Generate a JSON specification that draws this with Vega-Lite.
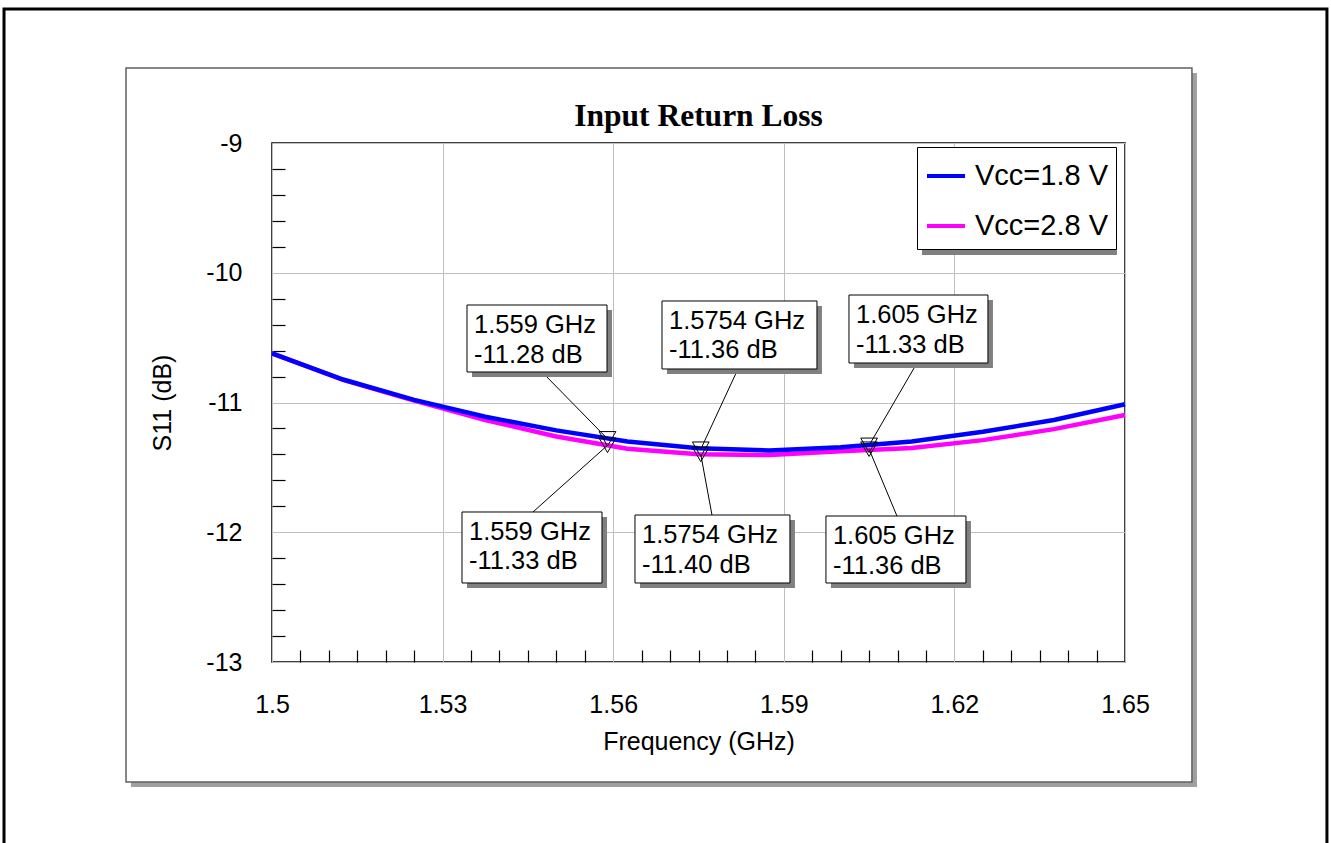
{
  "$schema": "https://vega.github.io/schema/vega-lite/v6.json",
  "width": 853,
  "height": 519,
  "autosize": {"type": "none"},
  "padding": {"left": 272, "top": 143, "right": 206, "bottom": 181},
  "background": "white",
  "config": {"view": {"stroke": "black", "strokeWidth": 1.5}, "font": "Liberation Sans"},
  "title": {"text": "Input Return Loss", "font": "Liberation Serif", "fontSize": 31.5, "fontWeight": "bold", "color": "black", "anchor": "middle", "baseline": "alphabetic", "offset": -150.5},
  "datasets": {
    "curves": [
      {"freq": 1.5, "s11": -10.622, "series": "Vcc=1.8 V"},
      {"freq": 1.5125, "s11": -10.823, "series": "Vcc=1.8 V"},
      {"freq": 1.525, "s11": -10.98, "series": "Vcc=1.8 V"},
      {"freq": 1.5375, "s11": -11.11, "series": "Vcc=1.8 V"},
      {"freq": 1.55, "s11": -11.215, "series": "Vcc=1.8 V"},
      {"freq": 1.5625, "s11": -11.3, "series": "Vcc=1.8 V"},
      {"freq": 1.575, "s11": -11.352, "series": "Vcc=1.8 V"},
      {"freq": 1.5875, "s11": -11.37, "series": "Vcc=1.8 V"},
      {"freq": 1.6, "s11": -11.345, "series": "Vcc=1.8 V"},
      {"freq": 1.6125, "s11": -11.3, "series": "Vcc=1.8 V"},
      {"freq": 1.625, "s11": -11.225, "series": "Vcc=1.8 V"},
      {"freq": 1.6375, "s11": -11.135, "series": "Vcc=1.8 V"},
      {"freq": 1.65, "s11": -11.014, "series": "Vcc=1.8 V"},
      {"freq": 1.5, "s11": -10.622, "series": "Vcc=2.8 V"},
      {"freq": 1.5125, "s11": -10.825, "series": "Vcc=2.8 V"},
      {"freq": 1.525, "s11": -10.986, "series": "Vcc=2.8 V"},
      {"freq": 1.5375, "s11": -11.135, "series": "Vcc=2.8 V"},
      {"freq": 1.55, "s11": -11.262, "series": "Vcc=2.8 V"},
      {"freq": 1.5625, "s11": -11.356, "series": "Vcc=2.8 V"},
      {"freq": 1.575, "s11": -11.398, "series": "Vcc=2.8 V"},
      {"freq": 1.5875, "s11": -11.405, "series": "Vcc=2.8 V"},
      {"freq": 1.6, "s11": -11.375, "series": "Vcc=2.8 V"},
      {"freq": 1.6125, "s11": -11.35, "series": "Vcc=2.8 V"},
      {"freq": 1.625, "s11": -11.29, "series": "Vcc=2.8 V"},
      {"freq": 1.6375, "s11": -11.205, "series": "Vcc=2.8 V"},
      {"freq": 1.65, "s11": -11.096, "series": "Vcc=2.8 V"}
    ],
    "markers": [
      {"freq": 1.559, "s11": -11.28, "series": "Vcc=1.8 V", "label": "1.559 GHz\n-11.28 dB", "boxF0": 1.53429, "boxF1": 1.55891, "boxDB0": -10.2486, "boxDB1": -10.7649, "leadF": 1.54748, "leadDB": -10.7649},
      {"freq": 1.559, "s11": -11.33, "series": "Vcc=2.8 V", "label": "1.559 GHz\n-11.33 dB", "boxF0": 1.53341, "boxF1": 1.55803, "boxDB0": -11.8439, "boxDB1": -12.3911, "leadF": 1.54589, "leadDB": -11.8439},
      {"freq": 1.5754, "s11": -11.36, "series": "Vcc=1.8 V", "label": "1.5754 GHz\n-11.36 dB", "boxF0": 1.56858, "boxF1": 1.59583, "boxDB0": -10.2177, "boxDB1": -10.7418, "leadF": 1.58194, "leadDB": -10.7418},
      {"freq": 1.5754, "s11": -11.40, "series": "Vcc=2.8 V", "label": "1.5754 GHz\n-11.40 dB", "boxF0": 1.56383, "boxF1": 1.59108, "boxDB0": -11.8671, "boxDB1": -12.3911, "leadF": 1.57737, "leadDB": -11.8671},
      {"freq": 1.605, "s11": -11.33, "series": "Vcc=1.8 V", "label": "1.605 GHz\n-11.33 dB", "boxF0": 1.60146, "boxF1": 1.6259, "boxDB0": -10.1715, "boxDB1": -10.6956, "leadF": 1.61342, "leadDB": -10.6956},
      {"freq": 1.605, "s11": -11.36, "series": "Vcc=2.8 V", "label": "1.605 GHz\n-11.36 dB", "boxF0": 1.59741, "boxF1": 1.62203, "boxDB0": -11.8748, "boxDB1": -12.3911, "leadF": 1.6099, "leadDB": -11.8748}
    ],
    "frames": [
      {"part": "outer", "f0": 1.452875, "f1": 1.685511, "db0": -7.96724, "db1": -14.6},
      {"part": "panel", "f0": 1.474327, "f1": 1.661773, "db0": -8.42197, "db1": -13.92486},
      {"part": "shadow", "f0": 1.661773, "f1": 1.662652, "db0": -8.4605, "db1": -13.96339},
      {"part": "shadow", "f0": 1.475207, "f1": 1.662652, "db0": -13.92486, "db1": -13.96339},
      {"part": "legend", "f0": 1.613417, "f1": 1.647705, "db0": -9.03083, "db1": -9.82466}
    ]
  },
  "layer": [
    {
      "data": {"name": "frames"},
      "transform": [{"filter": "datum.part == 'outer'"}],
      "mark": {"type": "rect", "fill": null, "fillOpacity": 0, "stroke": "black", "strokeWidth": 3, "clip": false},
      "encoding": {
        "x": {"field": "f0", "type": "quantitative", "scale": {"domain": [1.5, 1.65], "nice": false, "zero": false}},
        "x2": {"field": "f1"},
        "y": {"field": "db0", "type": "quantitative", "scale": {"domain": [-13, -9], "nice": false, "zero": false}},
        "y2": {"field": "db1"}
      }
    },
    {
      "data": {"name": "frames"},
      "transform": [{"filter": "datum.part == 'shadow'"}],
      "mark": {"type": "rect", "fill": "#a0a0a0", "strokeWidth": 0, "clip": false},
      "encoding": {
        "x": {"field": "f0", "type": "quantitative", "scale": {"domain": [1.5, 1.65], "nice": false, "zero": false}},
        "x2": {"field": "f1"},
        "y": {"field": "db0", "type": "quantitative", "scale": {"domain": [-13, -9], "nice": false, "zero": false}},
        "y2": {"field": "db1"}
      }
    },
    {
      "data": {"name": "frames"},
      "transform": [{"filter": "datum.part == 'panel'"}],
      "mark": {"type": "rect", "fill": null, "fillOpacity": 0, "stroke": "#606060", "strokeWidth": 1.5, "clip": false},
      "encoding": {
        "x": {"field": "f0", "type": "quantitative", "scale": {"domain": [1.5, 1.65], "nice": false, "zero": false}},
        "x2": {"field": "f1"},
        "y": {"field": "db0", "type": "quantitative", "scale": {"domain": [-13, -9], "nice": false, "zero": false}},
        "y2": {"field": "db1"}
      }
    },
    {
      "data": {"name": "frames"},
      "transform": [{"filter": "datum.part == 'legend'"}],
      "mark": {"type": "rect", "fill": "#808080", "strokeWidth": 0, "clip": false, "xOffset": 5, "x2Offset": 5, "yOffset": 5, "y2Offset": 5},
      "encoding": {
        "x": {"field": "f0", "type": "quantitative", "scale": {"domain": [1.5, 1.65], "nice": false, "zero": false}},
        "x2": {"field": "f1"},
        "y": {"field": "db0", "type": "quantitative", "scale": {"domain": [-13, -9], "nice": false, "zero": false}},
        "y2": {"field": "db1"}
      }
    },
    {
      "data": {"name": "curves"},
      "transform": [{"filter": "datum.series == 'Vcc=2.8 V'"}],
      "mark": {"type": "line", "strokeWidth": 4.5},
      "encoding": {
        "x": {"field": "freq", "type": "quantitative", "scale": {"domain": [1.5, 1.65], "nice": false, "zero": false},
          "axis": {
            "title": "Frequency (GHz)",
            "values": [1.5,1.505,1.51,1.515,1.52,1.525,1.53,1.535,1.54,1.545,1.55,1.555,1.56,1.565,1.57,1.575,1.58,1.585,1.59,1.595,1.6,1.605,1.61,1.615,1.62,1.625,1.63,1.635,1.64,1.645,1.65],
            "tickCount": 200,
            "labelExpr": "round(datum.value*1000)%30==0 ? toString(datum.value) : ''",
            "labelFont": "Liberation Sans", "labelFontSize": 25, "labelColor": "black", "labelPadding": 42, "labelFlush": false, "labelOverlap": false,
            "ticks": true, "tickSize": -12, "tickColor": "black", "tickWidth": 1.2,
            "tickOpacity": {"condition": {"test": "round(datum.value*1000)%30==0", "value": 0}, "value": 1},
            "grid": true, "gridColor": "#c0c0c0", "gridWidth": 1,
            "gridOpacity": {"condition": {"test": "round(datum.value*1000)%30==0", "value": 1}, "value": 0},
            "domain": false,
            "titleFont": "Liberation Sans", "titleFontSize": 25, "titleFontWeight": "normal", "titleColor": "black", "titlePadding": 12
          }},
        "y": {"field": "s11", "type": "quantitative", "scale": {"domain": [-13, -9], "nice": false, "zero": false},
          "axis": {
            "title": "S11 (dB)",
            "values": [-13,-12.8,-12.6,-12.4,-12.2,-12,-11.8,-11.6,-11.4,-11.2,-11,-10.8,-10.6,-10.4,-10.2,-10,-9.8,-9.6,-9.4,-9.2,-9],
            "tickCount": 200,
            "labelExpr": "round(datum.value*10)%10==0 ? toString(datum.value) : ''",
            "labelFont": "Liberation Sans", "labelFontSize": 25, "labelColor": "black", "labelPadding": 43, "labelFlush": false, "labelOverlap": false,
            "ticks": true, "tickSize": -13, "tickColor": "black", "tickWidth": 1.2,
            "tickOpacity": {"condition": {"test": "round(datum.value*10)%10==0", "value": 0}, "value": 1},
            "grid": true, "gridColor": "#c0c0c0", "gridWidth": 1,
            "gridOpacity": {"condition": {"test": "round(datum.value*10)%10==0", "value": 1}, "value": 0},
            "domain": false,
            "titleFont": "Liberation Sans", "titleFontSize": 25, "titleFontWeight": "normal", "titleColor": "black", "titlePadding": 30
          }},
        "color": {"field": "series", "type": "nominal",
          "scale": {"domain": ["Vcc=1.8 V", "Vcc=2.8 V"], "range": ["#0000ff", "#ff00ff"]},
          "legend": {"orient": "none", "legendX": 645, "legendY": 4, "title": null, "symbolType": "stroke", "symbolSize": 1444, "symbolStrokeWidth": 4, "labelFontSize": 29, "labelFont": "Liberation Sans", "labelColor": "black", "labelOffset": 8, "strokeColor": "black", "fillColor": "white", "padding": 8, "rowPadding": 14}}
      }
    },
    {
      "data": {"name": "curves"},
      "transform": [{"filter": "datum.series == 'Vcc=1.8 V'"}],
      "mark": {"type": "line", "strokeWidth": 4.5},
      "encoding": {
        "x": {"field": "freq", "type": "quantitative", "scale": {"domain": [1.5, 1.65], "nice": false, "zero": false}},
        "y": {"field": "s11", "type": "quantitative", "scale": {"domain": [-13, -9], "nice": false, "zero": false}},
        "color": {"field": "series", "type": "nominal",
          "scale": {"domain": ["Vcc=1.8 V", "Vcc=2.8 V"], "range": ["#0000ff", "#ff00ff"]},
          "legend": {"orient": "none", "legendX": 645, "legendY": 4, "title": null, "symbolType": "stroke", "symbolSize": 1444, "symbolStrokeWidth": 4, "labelFontSize": 29, "labelFont": "Liberation Sans", "labelColor": "black", "labelOffset": 8, "strokeColor": "black", "fillColor": "white", "padding": 8, "rowPadding": 14}}
      }
    },
    {
      "data": {"name": "markers"},
      "mark": {"type": "rule", "color": "black", "strokeWidth": 1},
      "encoding": {
        "x": {"field": "leadF", "type": "quantitative", "scale": {"domain": [1.5, 1.65], "nice": false, "zero": false}},
        "x2": {"field": "freq"},
        "y": {"field": "leadDB", "type": "quantitative", "scale": {"domain": [-13, -9], "nice": false, "zero": false}},
        "y2": {"field": "s11"}
      }
    },
    {
      "data": {"name": "markers"},
      "mark": {"type": "point", "shape": "triangle-down", "filled": false, "stroke": "black", "strokeWidth": 1, "size": 280, "opacity": 1},
      "encoding": {
        "x": {"field": "freq", "type": "quantitative", "scale": {"domain": [1.5, 1.65], "nice": false, "zero": false}},
        "y": {"field": "s11", "type": "quantitative", "scale": {"domain": [-13, -9], "nice": false, "zero": false}}
      }
    },
    {
      "data": {"name": "markers"},
      "mark": {"type": "rect", "fill": "#808080", "strokeWidth": 0, "xOffset": 5, "x2Offset": 5, "yOffset": 5, "y2Offset": 5},
      "encoding": {
        "x": {"field": "boxF0", "type": "quantitative", "scale": {"domain": [1.5, 1.65], "nice": false, "zero": false}},
        "x2": {"field": "boxF1"},
        "y": {"field": "boxDB0", "type": "quantitative", "scale": {"domain": [-13, -9], "nice": false, "zero": false}},
        "y2": {"field": "boxDB1"}
      }
    },
    {
      "data": {"name": "markers"},
      "mark": {"type": "rect", "fill": "white", "stroke": "black", "strokeWidth": 1},
      "encoding": {
        "x": {"field": "boxF0", "type": "quantitative", "scale": {"domain": [1.5, 1.65], "nice": false, "zero": false}},
        "x2": {"field": "boxF1"},
        "y": {"field": "boxDB0", "type": "quantitative", "scale": {"domain": [-13, -9], "nice": false, "zero": false}},
        "y2": {"field": "boxDB1"}
      }
    },
    {
      "data": {"name": "markers"},
      "mark": {"type": "text", "align": "left", "baseline": "top", "dx": 7, "dy": 8, "font": "Liberation Sans", "fontSize": 25.5, "lineBreak": "\n", "lineHeight": 29.5, "color": "black"},
      "encoding": {
        "x": {"field": "boxF0", "type": "quantitative", "scale": {"domain": [1.5, 1.65], "nice": false, "zero": false}},
        "y": {"field": "boxDB0", "type": "quantitative", "scale": {"domain": [-13, -9], "nice": false, "zero": false}},
        "text": {"field": "label"}
      }
    }
  ]
}
